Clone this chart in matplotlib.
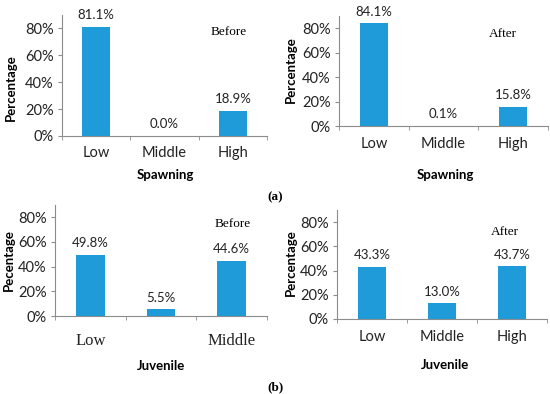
import matplotlib
matplotlib.use('Agg')
import matplotlib.pyplot as plt

# valores
categorias = ['Low', 'Middle', 'High']
categorias_juv_antes = ['Low', '', 'Middle']
desova_antes = [81.1, 0.0, 18.9]
desova_depois = [84.1, 0.1, 15.8]
juvenil_antes = [49.8, 5.5, 44.6]
juvenil_depois = [43.3, 13.0, 43.7]
yticks = [0, 20, 40, 60, 80]

W, H = 550, 394
cor_barra = '#1F9BDA'
cor_eixo = '#8C8C8C'
fonte = 'Lato'
serif = 'Liberation Serif'

fig = plt.figure(figsize=(W / 100, H / 100), dpi=100)


def px(x, y):
    return x / W, 1 - y / H


def painel(x0, x1, y_top, y_zero, valores, rotulos, pad_x, serif_x=False):
    left, bottom = px(x0, y_zero)
    ax = fig.add_axes([left, bottom, (x1 - x0) / W, (y_zero - y_top) / H])
    idx = range(len(valores))
    ax.bar(idx, valores, 0.41, color=cor_barra)
    for i, v in zip(idx, valores):
        ax.annotate(f'{v:.1f}%', (i, v), xytext=(0, 4), textcoords='offset points',
                    ha='center', va='bottom', fontsize=9.5, family=fonte, color='#222222')
    ax.set_xlim(-0.5, len(valores) - 0.5)
    ax.set_ylim(0, 90)
    ax.set_yticks(yticks)
    ax.set_yticklabels([f'{t}%' for t in yticks], family=fonte, fontsize=10.5, color='#222222')
    ax.set_xticks(list(idx))
    if serif_x:
        ax.set_xticklabels(rotulos, family=serif, fontsize=12, color='#222222')
    else:
        ax.set_xticklabels(rotulos, family=fonte, fontsize=10.5, color='#222222')
    ax.set_xticks([i + 0.5 for i in range(-1, len(valores))], minor=True)
    ax.tick_params(axis='x', which='major', length=0, pad=pad_x)
    ax.tick_params(axis='x', which='minor', length=3, color=cor_eixo)
    ax.tick_params(axis='y', length=3, color=cor_eixo, pad=3)
    for s in ['top', 'right']:
        ax.spines[s].set_visible(False)
    for s in ['left', 'bottom']:
        ax.spines[s].set_color(cor_eixo)
        ax.spines[s].set_linewidth(0.8)
    ax.set_facecolor('none')
    return ax


def texto(x, y, s, **kw):
    fx, fy = px(x, y)
    fig.text(fx, fy, s, ha='center', va='center', **kw)


painel(62, 267, 15, 136, desova_antes, categorias, 7)
painel(339, 548, 16, 126, desova_depois, categorias, 8)
painel(55, 267, 205, 316, juvenil_antes, categorias_juv_antes, 12, serif_x=True)
painel(337, 547, 210, 319, juvenil_depois, categorias, 8)

# titulos dos eixos
texto(165, 175, 'Spawning', family=fonte, fontsize=9.5, weight='bold')
texto(445, 175, 'Spawning', family=fonte, fontsize=9.5, weight='bold')
texto(161, 366, 'Juvenile', family=fonte, fontsize=9.5, weight='bold')
texto(445, 365, 'Juvenile', family=fonte, fontsize=9.5, weight='bold')

texto(11, 88, 'Percentage', family=fonte, fontsize=9.5, weight='bold', rotation=90)
texto(291, 70, 'Percentage', family=fonte, fontsize=9.5, weight='bold', rotation=90)
texto(9, 260, 'Pecentage', family=fonte, fontsize=9.5, weight='bold', rotation=90)
texto(291, 263, 'Percentage', family=fonte, fontsize=9.5, weight='bold', rotation=90)

texto(229, 32, 'Before', family=serif, fontsize=9.5)
texto(503, 34, 'After', family=serif, fontsize=9.5)
texto(233, 224, 'Before', family=serif, fontsize=9.5)
texto(505, 232, 'After', family=serif, fontsize=9.5)

texto(275, 197, '(a)', family=serif, fontsize=9.5, weight='bold')
texto(275, 387, '(b)', family=serif, fontsize=9.5, weight='bold')

fig.savefig('out.png', dpi=100)
